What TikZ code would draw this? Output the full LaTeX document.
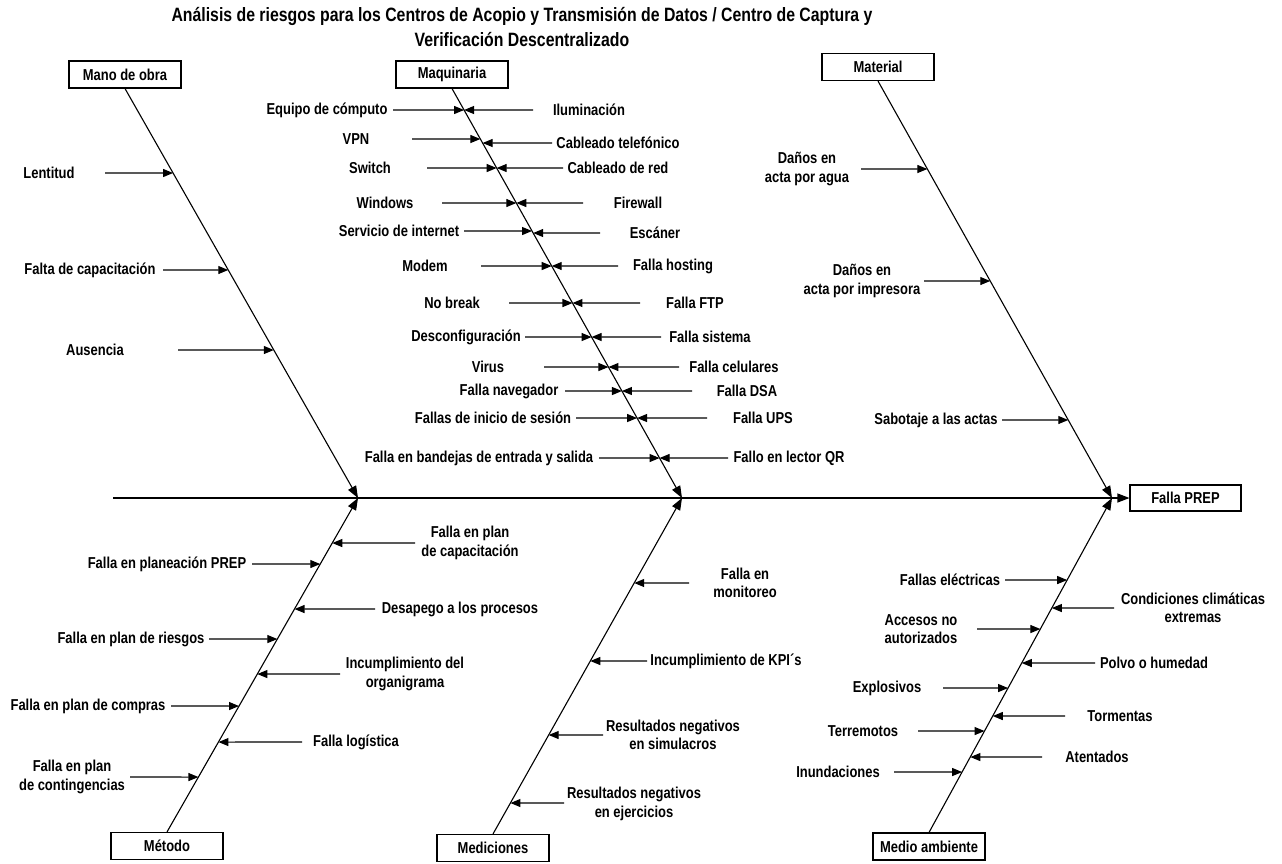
\documentclass[tikz,border=0pt]{standalone}
\usepackage{fontspec}
\setmainfont{Liberation Sans}[FakeStretch=0.82]
\usetikzlibrary{arrows.meta}

% #1 name, #2/#3 label centre, #4 text, #5/#6 arrow tail, #7/#8 bone ends
\newcommand\fbcause[8]{%
  \node[lbl] (#1) at (#2,#3) {#4};
  \coordinate (#1-t) at (#5,#6);
  \draw[causearrow] (#1-t) -- (intersection cs:first line={(#7)--(#8)}, second line={(#1-t)--(#1-t -| #8)});%
}

\begin{document}
\begin{tikzpicture}[x=1pt,y=-1pt,
  lbl/.style={font=\bfseries\fontsize{15.8}{18.5}\selectfont, align=center, inner sep=0pt},
  ttl/.style={font=\bfseries\fontsize{19.3}{25}\selectfont, align=center, inner sep=0pt},
  catbox/.style={draw, line width=1.1pt, minimum width=112pt, minimum height=27pt, inner sep=0pt,
                 font=\bfseries\fontsize{15.8}{18.5}\selectfont},
  bone/.style={line width=1.1pt, -{Triangle[length=12pt,width=9pt]}},
  causearrow/.style={line width=1.1pt, -{Triangle[length=10pt,width=8pt]}},
]
\fill[white] (0,0) rectangle (1282,863);
\useasboundingbox (0,0) rectangle (1282,863);

% title
\node[ttl] (title) at (522,27.5) {Análisis de riesgos para los Centros de Acopio y Transmisión de Datos / Centro de Captura y\\Verificación Descentralizado};

% category boxes and effect
\node[catbox] (mob) at (125,74.5) {Mano de obra};
\node[catbox] (maq) at (452,74.5) {Maquinaria};
\node[catbox] (mat) at (878,67) {Material};
\node[catbox] (met) at (167,846) {Método};
\node[catbox] (med) at (493,848) {Mediciones};
\node[catbox] (mam) at (929,846.5) {Medio ambiente};
\node[catbox, minimum width=111pt, minimum height=26pt] (prep) at (1185.5,498) {Falla PREP};

% spine and bones
\coordinate (s0) at (113,498);
\coordinate (j1) at (358,498);
\coordinate (j2) at (682,498);
\coordinate (j3) at (1112,498);
\draw[bone] (s0) -- (prep.west);
\draw[bone] (mob.south) -- (j1);
\draw[bone] (maq.south) -- (j2);
\draw[bone] (mat.south) -- (j3);
\draw[bone] (met.north) -- (j1);
\draw[bone] (med.north) -- (j2);
\draw[bone] (mam.north) -- (j3);

% Mano de obra
\fbcause{mo1}{49}{173}{Lentitud}{105}{173}{mob.south}{j1}
\fbcause{mo2}{90}{270}{Falta de capacitación}{163}{270}{mob.south}{j1}
\fbcause{mo3}{95}{350}{Ausencia}{178}{350}{mob.south}{j1}

% Maquinaria, left side
\fbcause{mq1}{327}{110}{Equipo de cómputo}{393}{110}{maq.south}{j2}
\fbcause{mq2}{356}{139}{VPN}{412}{139}{maq.south}{j2}
\fbcause{mq3}{370}{168}{Switch}{427}{168}{maq.south}{j2}
\fbcause{mq4}{385}{203}{Windows}{442}{203}{maq.south}{j2}
\fbcause{mq5}{399}{231}{Servicio de internet}{464}{231}{maq.south}{j2}
\fbcause{mq6}{425}{266}{Modem}{481}{266}{maq.south}{j2}
\fbcause{mq7}{452}{303}{No break}{509}{303}{maq.south}{j2}
\fbcause{mq8}{466}{337}{Desconfiguración}{525}{337}{maq.south}{j2}
\fbcause{mq9}{488}{367}{Virus}{544}{367}{maq.south}{j2}
\fbcause{mq10}{509}{391}{Falla navegador}{565}{391}{maq.south}{j2}
\fbcause{mq11}{493}{418}{Fallas de inicio de sesión}{576}{418}{maq.south}{j2}
\fbcause{mq12}{479}{458}{Falla en bandejas de entrada y salida}{599}{458}{maq.south}{j2}
% Maquinaria, right side
\fbcause{mr1}{589}{110}{Iluminación}{533}{110}{maq.south}{j2}
\fbcause{mr2}{618}{143}{Cableado telefónico}{552}{143}{maq.south}{j2}
\fbcause{mr3}{618}{168}{Cableado de red}{563}{168}{maq.south}{j2}
\fbcause{mr4}{638}{203}{Firewall}{583}{203}{maq.south}{j2}
\fbcause{mr5}{655}{233}{Escáner}{600}{233}{maq.south}{j2}
\fbcause{mr6}{673}{266}{Falla hosting}{618}{266}{maq.south}{j2}
\fbcause{mr7}{695}{303}{Falla FTP}{640}{303}{maq.south}{j2}
\fbcause{mr8}{710}{337}{Falla sistema}{661}{337}{maq.south}{j2}
\fbcause{mr9}{734}{367}{Falla celulares}{679}{367}{maq.south}{j2}
\fbcause{mr10}{747}{391}{Falla DSA}{692}{391}{maq.south}{j2}
\fbcause{mr11}{763}{418}{Falla UPS}{707}{418}{maq.south}{j2}
\fbcause{mr12}{789}{458}{Fallo en lector QR}{728}{458}{maq.south}{j2}

% Material
\fbcause{ma1}{807}{169}{Daños en\\acta por agua}{861}{169}{mat.south}{j3}
\fbcause{ma2}{862}{281}{Daños en\\acta por impresora}{924}{281}{mat.south}{j3}
\fbcause{ma3}{936}{420}{Sabotaje a las actas}{1002}{420}{mat.south}{j3}

% Método
\fbcause{me1}{167}{564}{Falla en planeación PREP}{252}{564}{met.north}{j1}
\fbcause{me2}{131}{639}{Falla en plan de riesgos}{209}{639}{met.north}{j1}
\fbcause{me3}{88}{706}{Falla en plan de compras}{171}{706}{met.north}{j1}
\fbcause{me4}{72}{777}{Falla en plan\\de contingencias}{130}{777}{met.north}{j1}
\fbcause{me5}{470}{543}{Falla en plan\\de capacitación}{415}{543}{met.north}{j1}
\fbcause{me6}{460}{609}{Desapego a los procesos}{375}{609}{met.north}{j1}
\fbcause{me7}{405}{674}{Incumplimiento del\\organigrama}{340}{674}{met.north}{j1}
\fbcause{me8}{356}{742}{Falla logística}{302}{742}{met.north}{j1}

% Mediciones
\fbcause{md1}{745}{583}{Falla en\\monitoreo}{689}{583}{med.north}{j2}
\fbcause{md2}{726}{661}{Incumplimiento de KPI´s}{647}{661}{med.north}{j2}
\fbcause{md3}{673}{735}{Resultados negativos\\en simulacros}{603}{735}{med.north}{j2}
\fbcause{md4}{634}{804}{Resultados negativos\\en ejercicios}{564}{803}{med.north}{j2}

% Medio ambiente, left side
\fbcause{ml1}{950}{580}{Fallas eléctricas}{1005}{580}{mam.north}{j3}
\fbcause{ml2}{921}{629}{Accesos no\\autorizados}{977}{629}{mam.north}{j3}
\fbcause{ml3}{887}{688}{Explosivos}{943}{688}{mam.north}{j3}
\fbcause{ml4}{863}{731}{Terremotos}{918}{731}{mam.north}{j3}
\fbcause{ml5}{838}{772}{Inundaciones}{894}{772}{mam.north}{j3}
% Medio ambiente, right side
\fbcause{mn1}{1193}{608}{Condiciones climáticas\\extremas}{1114}{608}{mam.north}{j3}
\fbcause{mn2}{1154}{663}{Polvo o humedad}{1095}{663}{mam.north}{j3}
\fbcause{mn3}{1120}{716}{Tormentas}{1065}{716}{mam.north}{j3}
\fbcause{mn4}{1097}{757}{Atentados}{1042}{757}{mam.north}{j3}
\end{tikzpicture}
\end{document}
